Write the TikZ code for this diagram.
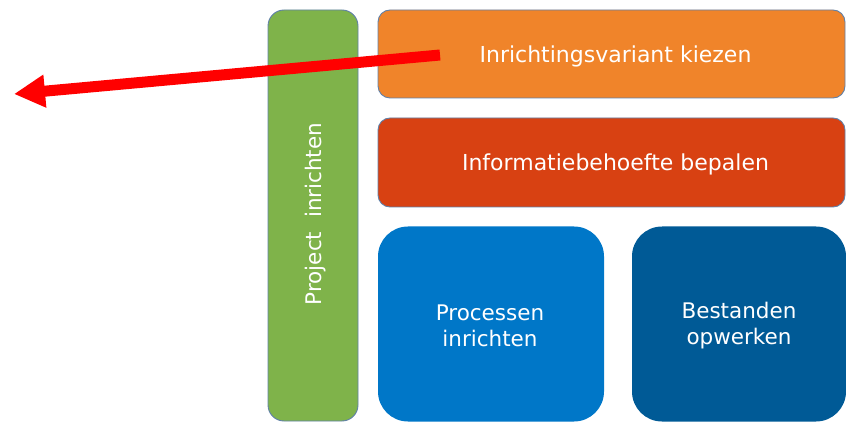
\documentclass[tikz,border=0pt]{standalone}
\usepackage{fontspec}
\setmainfont{DejaVu Sans}
\usetikzlibrary{arrows.meta}
\definecolor{cgreen}{RGB}{127,179,74}
\definecolor{corange}{RGB}{240,132,42}
\definecolor{cred}{RGB}{216,65,18}
\definecolor{cblue}{RGB}{0,119,200}
\definecolor{cdblue}{RGB}{0,90,150}
\definecolor{cedge}{RGB}{96,128,168}
\begin{document}
\begin{tikzpicture}[x=1pt,y=-1pt,
  box/.style={rectangle,text=white,inner sep=0pt,align=center,
    font=\fontsize{21.5}{26}\selectfont},
  bar/.style={box,draw=cedge,line width=0.9pt,rounded corners=12pt},
  tile/.style={box,rounded corners=30pt},
  lbl/.style={text=white,inner sep=0pt,align=center,font=\fontsize{22}{26}\selectfont}]
\useasboundingbox (0,0) rectangle (846,422);
\node[bar,fill=cgreen,rounded corners=16pt,minimum width=90pt,minimum height=411pt] (proj) at (313,215.5) {};
\node[rotate=90,lbl,font=\fontsize{21.5}{26}\selectfont] (projt) at (316,214) {Project\ \ inrichten};
\node[bar,fill=corange,minimum width=467pt,minimum height=88pt] (variant) at (611.5,54) {};
\node[lbl] (variantt) at (615.5,56) {Inrichtingsvariant kiezen};
\node[bar,fill=cred,minimum width=467pt,minimum height=89pt] (info) at (611.5,162.5) {};
\node[lbl] (infot) at (615.5,164) {Informatiebehoefte bepalen};
\node[tile,fill=cblue,minimum width=226pt,minimum height=195pt] (proc) at (491,324) {};
\node[lbl,font=\fontsize{21.5}{26}\selectfont] (proct) at (490,326) {Processen\\inrichten};
\node[tile,fill=cdblue,minimum width=214pt,minimum height=195pt] (best) at (739,324) {};
\node[lbl,font=\fontsize{21.5}{26}\selectfont] (bestt) at (739,326) {Bestanden\\opwerken};
\coordinate (tail) at (440,55);
\coordinate (tip) at (14,94);
\draw[red,line width=11pt,-{Triangle[length=31pt,width=31pt]}] (tail) -- (tip);
\end{tikzpicture}
\end{document}
